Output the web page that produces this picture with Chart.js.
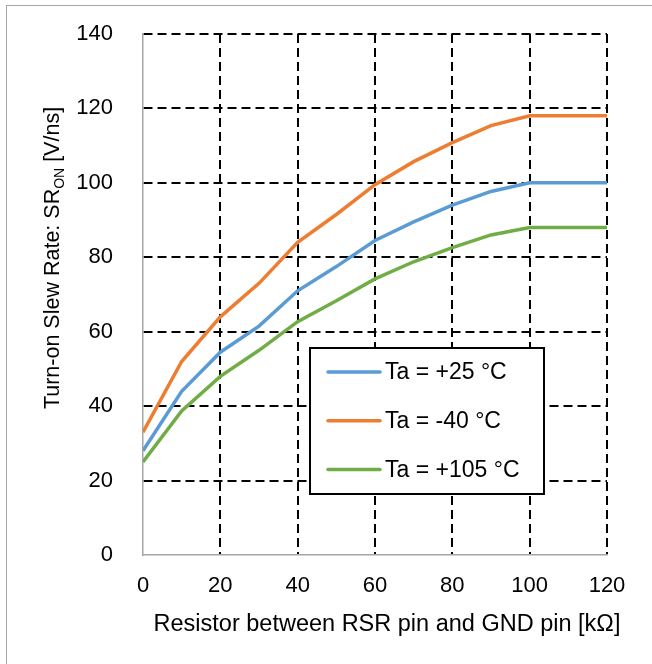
<!DOCTYPE html>
<html>
<head>
<meta charset="utf-8">
<title>Turn-on slew rate vs RSR resistor</title>
<script src="https://cdn.jsdelivr.net/npm/chart.js@4.4.0/dist/chart.umd.min.js"></script>
<style>
    body { margin: 0; background: #fff; }
    #wrap { position: relative; width: 652px; height: 664px; overflow: hidden; }
    #frame { position: absolute; left: 6px; top: 5px; width: 700px; height: 700px;
             border-left: 1px solid #a6a6a6; border-top: 1px solid #a6a6a6; pointer-events: none; }
</style>
</head>
<body>
<div id="wrap">
    <canvas id="srChart"></canvas>
    <div id="frame"></div>
</div>
<script>
// Resistor between RSR pin and GND pin [kΩ]
const resistance = [0, 10, 20, 30, 40, 50, 60, 70, 80, 90, 100, 120];

// Turn-on slew rate SR_ON [V/ns]
const srTa25 = [28, 44, 54.5, 61.5, 71, 77.5, 84.5, 89.5, 94, 97.7, 100, 100];
const srTaMinus40 = [33, 52, 64, 73, 84, 91.5, 99.5, 105.7, 110.8, 115.4, 118, 118];
const srTa105 = [25, 38.7, 48, 55, 62.7, 68.3, 74.2, 78.8, 82.6, 86, 88, 88];

const seriesLabels = ['Ta = +25 °C', 'Ta = -40 °C', 'Ta = +105 °C'];
const seriesColors = ['#5B9BD5', '#ED7D31', '#70AD47'];

const xTickStep = 20, xMin = 0, xMax = 120;
const yTickStep = 20, yMin = 0, yMax = 140;

const xTitle = 'Resistor between RSR pin and GND pin [kΩ]';
const yTitleParts = [['Turn-on Slew Rate: SR', false], ['ON', true], [' [V/ns]', false]];

const FONT = '"Liberation Sans", Arial, sans-serif';

function toPoints(values) {
    return resistance.map((r, i) => ({ x: r, y: values[i] }));
}

// legend box sitting inside the plot, like the Excel original
const boxLegend = {
    id: 'boxLegend',
    afterDatasetsDraw(chart) {
        const ctx = chart.ctx;
        const bx = 310, by = 348, bw = 234, bh = 146;
        ctx.save();
        ctx.fillStyle = '#fff';
        ctx.fillRect(bx, by, bw, bh);
        ctx.lineWidth = 2;
        ctx.strokeStyle = '#000';
        ctx.strokeRect(bx, by, bw, bh);
        ctx.font = '23px ' + FONT;
        ctx.textBaseline = 'middle';
        ctx.textAlign = 'left';
        chart.data.datasets.forEach((ds, i) => {
            const ly = 372 + i * 48.7;
            ctx.strokeStyle = ds.borderColor;
            ctx.lineWidth = 3.5;
            ctx.lineCap = 'round';
            ctx.beginPath();
            ctx.moveTo(328, ly);
            ctx.lineTo(380, ly);
            ctx.stroke();
            ctx.fillStyle = '#000';
            ctx.fillText(ds.label, 385, ly + 1);
        });
        ctx.restore();
    }
};

// axis titles (y title needs the ON subscript)
const axisTitles = {
    id: 'axisTitles',
    afterDraw(chart) {
        const ctx = chart.ctx;
        ctx.save();
        ctx.fillStyle = '#000';
        ctx.textBaseline = 'alphabetic';
        ctx.textAlign = 'center';
        ctx.font = '23.5px ' + FONT;
        ctx.fillText(xTitle, 387, 631);

        const mainFont = '21.5px ' + FONT;
        const subFont = '14px ' + FONT;
        let total = 0;
        const widths = yTitleParts.map(([txt, sub]) => {
            ctx.font = sub ? subFont : mainFont;
            const w = ctx.measureText(txt).width;
            total += w;
            return w;
        });
        ctx.translate(59, 258);
        ctx.rotate(-Math.PI / 2);
        ctx.textAlign = 'left';
        let x = -total / 2;
        yTitleParts.forEach(([txt, sub], i) => {
            ctx.font = sub ? subFont : mainFont;
            ctx.fillText(txt, x, sub ? 5 : 0);
            x += widths[i];
        });
        ctx.restore();
    }
};

document.addEventListener('DOMContentLoaded', function() {
    const ctx = document.getElementById('srChart').getContext('2d');
    const series = [srTa25, srTaMinus40, srTa105];
    new Chart(ctx, {
        type: 'line',
        data: {
            datasets: series.map((vals, i) => ({
                label: seriesLabels[i],
                data: toPoints(vals),
                borderColor: seriesColors[i],
                backgroundColor: seriesColors[i],
                borderWidth: 3.5,
                pointRadius: 0,
                tension: 0,
                fill: false
            }))
        },
        options: {
            responsive: true,
            maintainAspectRatio: false,
            animation: false,
            layout: { padding: { top: 34, right: 45, bottom: 0, left: 0 } },
            scales: {
                x: {
                    type: 'linear',
                    min: xMin,
                    max: xMax,
                    afterFit: function(scale) { scale.height = 109; },
                    ticks: {
                        stepSize: xTickStep,
                        padding: 18,
                        color: '#000',
                        font: { family: FONT, size: 22 }
                    },
                    grid: {
                        color: c => (c.tick && c.tick.value === xMin) ? 'rgba(0,0,0,0)' : '#000',
                        lineWidth: 2,
                        drawTicks: false
                    },
                    border: { display: true, color: '#a6a6a6', width: 1.5, dash: [9, 5] }
                },
                y: {
                    min: yMin,
                    max: yMax,
                    afterFit: function(scale) {
                        scale.width = 143;
                        // tick padding would otherwise push the plot top down
                        scale.paddingTop = 0;
                        scale.paddingBottom = 0;
                    },
                    ticks: {
                        stepSize: yTickStep,
                        padding: 30,
                        color: '#000',
                        font: { family: FONT, size: 22 }
                    },
                    grid: {
                        color: c => (c.tick && c.tick.value === yMin) ? 'rgba(0,0,0,0)' : '#000',
                        lineWidth: 2,
                        drawTicks: false
                    },
                    border: { display: true, color: '#a6a6a6', width: 1.5, dash: [9, 5] }
                }
            },
            plugins: {
                legend: { display: false },
                tooltip: { enabled: false }
            }
        },
        plugins: [boxLegend, axisTitles]
    });
});
</script>
</body>
</html>
